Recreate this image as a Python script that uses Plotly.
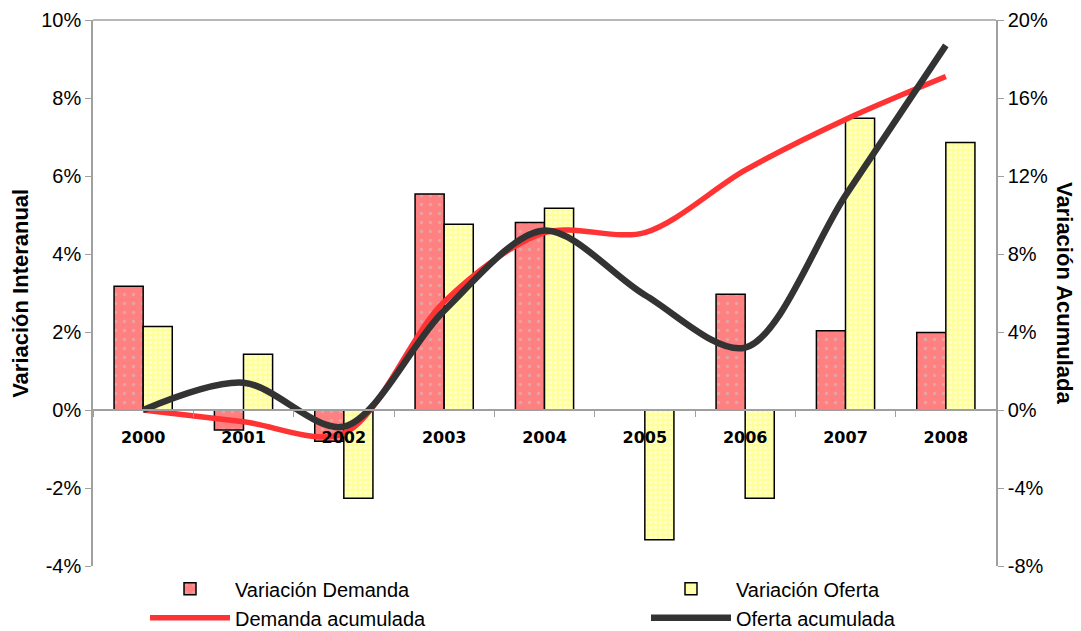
import plotly.graph_objects as go

# years on the x axis
years = ["2000", "2001", "2002", "2003", "2004", "2005", "2006", "2007", "2008"]

# yearly change (%), left axis
var_demanda = [3.17, -0.51, -0.8, 5.54, 4.81, 0.0, 2.97, 2.03, 1.99]
var_oferta = [2.14, 1.43, -2.26, 4.76, 5.17, -3.33, -2.26, 7.48, 6.86]

# accumulated change (%), right axis
demanda_acum = [0.0, -0.6, -1.2, 5.55, 9.1, 9.1, 12.3, 14.9, 17.1]
oferta_acum = [0.0, 1.4, -0.85, 5.1, 9.2, 5.9, 3.2, 11.0, 18.7]

# tick labels (plain hyphen for negatives, as in the original)
left_ticks = [-4, -2, 0, 2, 4, 6, 8, 10]
left_labels = ["-4%", "-2%", "0%", "2%", "4%", "6%", "8%", "10%"]
right_ticks = [-8, -4, 0, 4, 8, 12, 16, 20]
right_labels = ["-8%", "-4%", "0%", "4%", "8%", "12%", "16%", "20%"]

AXIS_GREY = "#A0A0A0"
TICK_FONT = dict(family="Liberation Sans, Arial, sans-serif", size=20, color="black")
LEGEND_FONT = dict(family="Liberation Sans, Arial, sans-serif", size=20, color="black")
TITLE_FONT = dict(family="Liberation Sans, Arial, sans-serif", size=22, color="black")

fig = go.Figure()

fig.add_trace(
    go.Bar(
        x=years,
        y=var_demanda,
        name="Variación Demanda",
        legend="legend",
        marker=dict(
            color="#FF8080",
            line=dict(color="black", width=1.5),
            pattern=dict(shape=".", bgcolor="#FF8080", fgcolor="#C8C8C8", size=9, solidity=0.12),
        ),
    )
)
fig.add_trace(
    go.Bar(
        x=years,
        y=var_oferta,
        name="Variación Oferta",
        legend="legend2",
        marker=dict(
            color="#FFFF99",
            line=dict(color="black", width=1.5),
            pattern=dict(shape=".", bgcolor="#FFFF99", fgcolor="#FFFFFF", size=5, solidity=0.35),
        ),
    )
)
fig.add_trace(
    go.Scatter(
        x=years,
        y=demanda_acum,
        name="Demanda acumulada",
        legend="legend",
        yaxis="y2",
        mode="lines",
        line=dict(color="#FF3333", width=5.5, shape="spline", smoothing=0.9),
    )
)
fig.add_trace(
    go.Scatter(
        x=years,
        y=oferta_acum,
        name="Oferta acumulada",
        legend="legend2",
        yaxis="y2",
        mode="lines",
        line=dict(color="#333333", width=6.5, shape="spline", smoothing=0.9),
    )
)

fig.update_layout(
    width=1081,
    height=631,
    margin=dict(l=93, r=85, t=20, b=65, autoexpand=False),
    paper_bgcolor="white",
    plot_bgcolor="white",
    barmode="group",
    bargap=0.42,
    bargroupgap=0,
    xaxis=dict(
        type="category",
        anchor="free",
        position=4 / 14,
        showline=True,
        linecolor=AXIS_GREY,
        linewidth=1.5,
        ticks="outside",
        tickson="boundaries",
        ticklen=6,
        tickcolor=AXIS_GREY,
        ticklabelstandoff=13,
        tickfont=dict(family="DejaVu Sans, sans-serif", size=16, color="black", weight="bold"),
        showgrid=False,
        zeroline=False,
    ),
    yaxis=dict(
        range=[-4, 10],
        tickvals=left_ticks,
        ticktext=left_labels,
        showline=True,
        linecolor=AXIS_GREY,
        linewidth=1.5,
        ticks="outside",
        ticklen=6,
        tickcolor=AXIS_GREY,
        tickfont=TICK_FONT,
        showgrid=False,
        zeroline=False,
    ),
    yaxis2=dict(
        range=[-8, 20],
        tickvals=right_ticks,
        ticktext=right_labels,
        overlaying="y",
        side="right",
        showline=True,
        linecolor=AXIS_GREY,
        linewidth=1.5,
        ticks="outside",
        ticklen=6,
        tickcolor=AXIS_GREY,
        tickfont=TICK_FONT,
        showgrid=False,
        zeroline=False,
    ),
    legend=dict(
        x=0.0576,
        y=-0.006,
        xanchor="left",
        yanchor="top",
        orientation="v",
        itemwidth=80,
        font=LEGEND_FONT,
        bgcolor="rgba(0,0,0,0)",
    ),
    legend2=dict(
        x=0.6124,
        y=-0.006,
        xanchor="left",
        yanchor="top",
        orientation="v",
        itemwidth=80,
        font=LEGEND_FONT,
        bgcolor="rgba(0,0,0,0)",
    ),
    showlegend=True,
)

# axis titles: left reads upwards, right reads downwards
fig.add_annotation(
    text="<b>Variación Interanual</b>",
    xref="paper", yref="paper", x=-0.081, y=0.5,
    xanchor="center", yanchor="middle",
    textangle=-90, showarrow=False,
    font=TITLE_FONT,
)
fig.add_annotation(
    text="<b>Variación Acumulada</b>",
    xref="paper", yref="paper", x=1.0764, y=0.5,
    xanchor="center", yanchor="middle",
    textangle=90, showarrow=False,
    font=TITLE_FONT,
)

# top border of the plot area
fig.add_shape(
    type="line", xref="paper", yref="paper",
    x0=0, x1=1, y0=1, y1=1,
    line=dict(color=AXIS_GREY, width=1.5),
)

# drop the browser's default body margin so the figure fills the window
fig.write_html(
    "out.html",
    config={"displayModeBar": False},
    post_script="document.body.style.margin = '0';",
)
